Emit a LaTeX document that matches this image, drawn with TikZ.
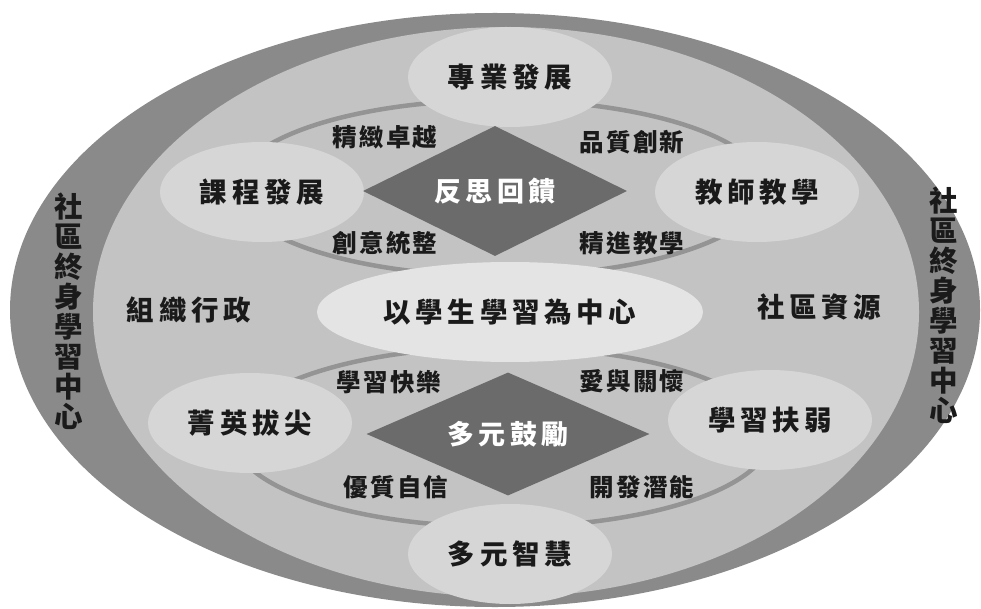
\documentclass[tikz,border=0pt]{standalone}
\usepackage{fontspec}
\newfontfamily\cjkbig{Noto Sans CJK TC}[LetterSpace=17]
\newfontfamily\cjksmall{Noto Sans CJK TC}[LetterSpace=9]
\newfontfamily\cjkside{Noto Sans CJK TC}
\usetikzlibrary{positioning,shapes.geometric}
\definecolor{outerring}{HTML}{8A8A8A}
\definecolor{innerfill}{HTML}{C3C3C3}
\definecolor{ringline}{HTML}{949494}
\definecolor{topicfill}{HTML}{D6D6D6}
\definecolor{hubfill}{HTML}{E4E4E4}
\definecolor{corefill}{HTML}{6B6B6B}
\definecolor{ink}{HTML}{1A1A1A}

\begin{document}
\begin{tikzpicture}[x=1pt,y=-1pt,
    topic/.style={ellipse,fill=topicfill,minimum width=204pt,minimum height=100pt,inner sep=0pt,text=ink,font=\cjkbig\bfseries\fontsize{27.5}{30}\selectfont},
    hub/.style={topic,fill=hubfill,minimum width=386pt},
    core/.style={diamond,aspect=2,fill=corefill,inner sep=0pt,text=white,font=\cjkbig\bfseries\fontsize{27}{30}\selectfont},
    cue/.style={inner sep=0pt,text=ink,font=\cjksmall\bfseries\fontsize{24.5}{26}\selectfont},
    area/.style={inner sep=0pt,text=ink,font=\cjkbig\bfseries\fontsize{27.5}{30}\selectfont},
    side/.style={inner sep=0pt,align=center,text=ink,font=\cjkside\bfseries\fontsize{28.5}{30}\selectfont},
    ring/.style={draw=ringline,line width=4.5pt}]
  \useasboundingbox (0,0) rectangle (981,609);
  % rings
  \fill[outerring] (495,310) ellipse [x radius=485, y radius=297];
  \fill[innerfill] (506,312) ellipse [x radius=413, y radius=285];
  \draw[ring] (500,188) ellipse [x radius=265, y radius=88]; \draw[ring] (502,437) ellipse [x radius=268, y radius=90];
  % upper cycle
  \node[topic] (prof) at (510,77) {專業發展}; \node[topic] (curr) at (262,192) {課程發展}; \node[topic] (teach) at (757,192) {教師教學};
  \node[core,minimum width=264pt,minimum height=130pt] (refl) at (495,191) {反思回饋};
  \node[cue] (excel) at (385,137) {精緻卓越}; \node[cue] (innov) at (632,142) {品質創新}; \node[cue] (integ) at (385,243) {創意統整}; \node[cue] (refine) at (632,243) {精進教學};
  % center
  \node[hub] (student) at (510,312) {以學生學習為中心};
  \node[area] (admin) at (189,310) {組織行政}; \node[area] (commres) at (819,307) {社區資源};
  \node[side] (lifeL) at (69,311) {社\\區\\終\\身\\學\\習\\中\\心}; \node[side] (lifeR) at (944,305) {社\\區\\終\\身\\學\\習\\中\\心};
  % lower cycle
  \node[topic] (elite) at (250,423) {菁英拔尖}; \node[topic] (support) at (770,420) {學習扶弱}; \node[topic] (multi) at (510,554) {多元智慧};
  \node[core,minimum width=283pt,minimum height=123pt] (enc) at (508,434) {多元鼓勵};
  \node[cue] (joy) at (389,382) {學習快樂}; \node[cue] (care) at (632,381) {愛與關懷}; \node[cue] (conf) at (396,487) {優質自信}; \node[cue] (potent) at (642,487) {開發潛能};
\end{tikzpicture}
\end{document}
